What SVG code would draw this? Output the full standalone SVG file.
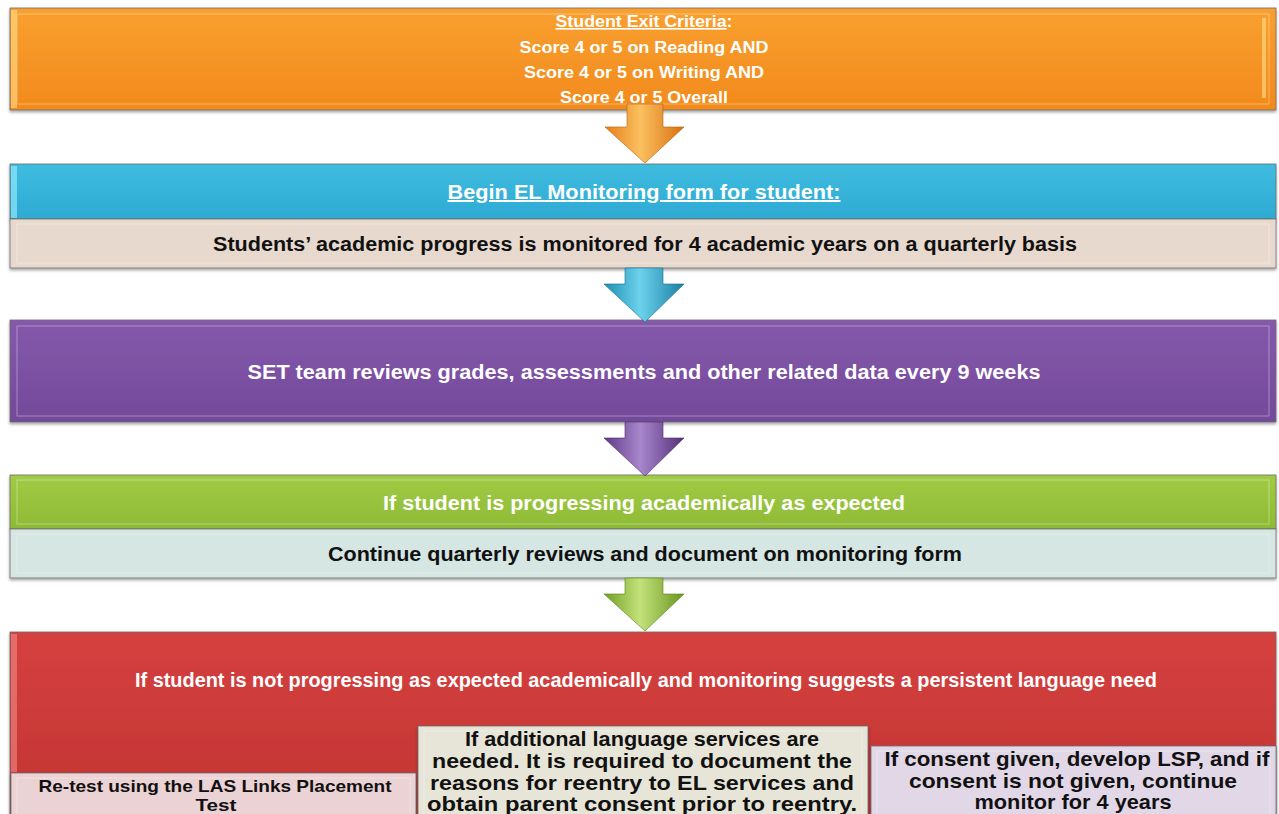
<svg xmlns="http://www.w3.org/2000/svg" width="1279" height="814" viewBox="0 0 1279 814">
<defs>
<linearGradient id="gOrange" x1="0" y1="0" x2="0" y2="1"><stop offset="0" stop-color="#F9A030"/><stop offset="1" stop-color="#F28A1C"/></linearGradient>
<linearGradient id="gBlue" x1="0" y1="0" x2="0" y2="1"><stop offset="0" stop-color="#3FBCE0"/><stop offset="1" stop-color="#2EAAD3"/></linearGradient>
<linearGradient id="gPurple" x1="0" y1="0" x2="0" y2="1"><stop offset="0" stop-color="#8559AC"/><stop offset="1" stop-color="#73499A"/></linearGradient>
<linearGradient id="gGreen" x1="0" y1="0" x2="0" y2="1"><stop offset="0" stop-color="#A2CB45"/><stop offset="1" stop-color="#8DBA35"/></linearGradient>
<linearGradient id="gRed" x1="0" y1="0" x2="0" y2="1"><stop offset="0" stop-color="#D5413F"/><stop offset="1" stop-color="#C13332"/></linearGradient>
<linearGradient id="gArrO" x1="0" y1="0" x2="1" y2="0"><stop offset="0" stop-color="#E57E17"/><stop offset="0.45" stop-color="#FBC060"/><stop offset="1" stop-color="#D8700F"/></linearGradient>
<linearGradient id="gArrB" x1="0" y1="0" x2="1" y2="0"><stop offset="0" stop-color="#1E8FB5"/><stop offset="0.45" stop-color="#6CD2EC"/><stop offset="1" stop-color="#1A7FA3"/></linearGradient>
<linearGradient id="gArrP" x1="0" y1="0" x2="1" y2="0"><stop offset="0" stop-color="#5E3A86"/><stop offset="0.45" stop-color="#A886CC"/><stop offset="1" stop-color="#553079"/></linearGradient>
<linearGradient id="gArrG" x1="0" y1="0" x2="1" y2="0"><stop offset="0" stop-color="#739F25"/><stop offset="0.45" stop-color="#C3E27A"/><stop offset="1" stop-color="#6A951F"/></linearGradient>
<filter id="sh" x="-2%" y="-10%" width="104%" height="130%"><feDropShadow dx="0" dy="2" stdDeviation="1.5" flood-color="#000" flood-opacity="0.35"/></filter>
</defs>
<style>
.box{stroke:#6b6b6b;stroke-width:0.8;filter:url(#sh)}
.bev{fill:none;stroke:#ffffff;stroke-opacity:0.35;stroke-width:1}
.hl{fill-opacity:0.6}
.tw{font-family:"Liberation Sans",Arial,sans-serif;font-weight:bold;fill:#ffffff;text-anchor:middle}
.tb{font-family:"Liberation Sans",Arial,sans-serif;font-weight:bold;fill:#111111;text-anchor:middle}
.u{text-decoration:underline}
</style>
<rect width="1279" height="814" fill="#ffffff"/>

<g id="node-exit-criteria">
<rect class="box" x="10" y="8" width="1266" height="102" fill="url(#gOrange)"/>
<rect class="bev" x="17" y="14" width="1252" height="90"/>
<rect class="hl" x="11" y="10" width="6" height="98" fill="#FFE08A"/>
<rect class="hl" x="1262" y="18" width="4" height="80" fill="#FFE08A"/>
<text class="tw" x="644" y="27" font-size="16" textLength="177" lengthAdjust="spacingAndGlyphs"><tspan class="u">Student Exit Criteria</tspan>:</text>
<text class="tw" x="644" y="53" font-size="16" textLength="249" lengthAdjust="spacingAndGlyphs">Score 4 or 5 on Reading AND</text>
<text class="tw" x="644" y="78" font-size="16" textLength="240" lengthAdjust="spacingAndGlyphs">Score 4 or 5 on Writing AND</text>
<text class="tw" x="644" y="103" font-size="16" textLength="168" lengthAdjust="spacingAndGlyphs">Score 4 or 5 Overall</text>
</g>

<g id="node-begin-monitoring">
<rect class="box" x="10" y="164" width="1266" height="55" fill="url(#gBlue)"/>
<rect class="hl" x="11" y="166" width="6" height="52" fill="#9FF0FF"/>
<text class="tw u" x="644" y="199" font-size="20" textLength="393" lengthAdjust="spacingAndGlyphs">Begin EL Monitoring form for student:</text>
<rect class="box" x="10" y="219" width="1266" height="49" fill="#E8D9CE"/>
<rect class="bev" x="17" y="224" width="1252" height="39" stroke-opacity="0.7"/>
<text class="tb" x="645" y="251" font-size="20" textLength="864" lengthAdjust="spacingAndGlyphs">Students’ academic progress is monitored for 4 academic years on a quarterly basis</text>
</g>

<g id="node-set-review">
<rect class="box" x="10" y="320" width="1266" height="102" fill="url(#gPurple)"/>
<rect class="bev" x="17" y="326" width="1252" height="90"/>
<text class="tw" x="644" y="379" font-size="20" textLength="793" lengthAdjust="spacingAndGlyphs">SET team reviews grades, assessments and other related data every 9 weeks</text>
</g>

<g id="node-progressing">
<rect class="box" x="10" y="475" width="1266" height="54" fill="url(#gGreen)"/>
<rect class="bev" x="17" y="480" width="1252" height="44"/>
<text class="tw" x="644" y="510" font-size="20" textLength="522" lengthAdjust="spacingAndGlyphs">If student is progressing academically as expected</text>
<rect class="box" x="10" y="529" width="1266" height="49" fill="#D5E6E3"/>
<rect class="bev" x="17" y="534" width="1252" height="39" stroke-opacity="0.7"/>
<text class="tb" x="645" y="561" font-size="20" textLength="634" lengthAdjust="spacingAndGlyphs">Continue quarterly reviews and document on monitoring form</text>
</g>

<g id="node-not-progressing">
<rect class="box" x="10" y="632" width="1266" height="190" fill="url(#gRed)"/>
<rect class="hl" x="11" y="634" width="6" height="138" fill="#F08A88"/>
<text class="tw" x="646" y="687" font-size="20" textLength="1022" lengthAdjust="spacingAndGlyphs">If student is not progressing as expected academically and monitoring suggests a persistent language need</text>
</g>

<g id="node-retest">
<rect class="box" x="11" y="773" width="405" height="50" fill="#EBD2D4"/>
<rect class="bev" x="17" y="778" width="393" height="40" stroke-opacity="0.7"/>
<text class="tb" x="215" y="792" font-size="17" textLength="353" lengthAdjust="spacingAndGlyphs">Re-test using the LAS Links Placement</text>
<text class="tb" x="216" y="811" font-size="17" textLength="41" lengthAdjust="spacingAndGlyphs">Test</text>
</g>

<g id="node-additional">
<rect class="box" x="418" y="726" width="450" height="96" fill="#E7E5D7"/>
<rect class="bev" x="424" y="731" width="438" height="86" stroke-opacity="0.7"/>
<text class="tb" x="642" y="746" font-size="20.5" textLength="354" lengthAdjust="spacingAndGlyphs">If additional language services are</text>
<text class="tb" x="642" y="768" font-size="20.5" textLength="420" lengthAdjust="spacingAndGlyphs">needed. It is required to document the</text>
<text class="tb" x="642" y="790" font-size="20.5" textLength="424" lengthAdjust="spacingAndGlyphs">reasons for reentry to EL services and</text>
<text class="tb" x="642" y="811" font-size="20.5" textLength="430" lengthAdjust="spacingAndGlyphs">obtain parent consent prior to reentry.</text>
</g>

<g id="node-consent">
<rect class="box" x="871" y="746" width="405" height="76" fill="#E2D7E7"/>
<rect class="bev" x="877" y="751" width="393" height="66" stroke-opacity="0.7"/>
<text class="tb" x="1077" y="766" font-size="20.5" textLength="385" lengthAdjust="spacingAndGlyphs">If consent given, develop LSP, and if</text>
<text class="tb" x="1073" y="788" font-size="20.5" textLength="328" lengthAdjust="spacingAndGlyphs">consent is not given, continue</text>
<text class="tb" x="1073" y="809" font-size="20.5" textLength="197" lengthAdjust="spacingAndGlyphs">monitor for 4 years</text>
</g>

<g id="connectors">
<polygon points="627,104 663,104 663,127 684,127 645,163 605,127 627,127" fill="url(#gArrO)" stroke="#B5620E" stroke-width="0.6"/>
<polygon points="625,268 663,268 663,284 684,284 645,322 604,284 625,284" fill="url(#gArrB)" stroke="#186E8C" stroke-width="0.6"/>
<polygon points="625,422 663,422 663,438 684,438 645,476 604,438 625,438" fill="url(#gArrP)" stroke="#4A2A6A" stroke-width="0.6"/>
<polygon points="625,578 663,578 663,594 684,594 645,631 604,594 625,594" fill="url(#gArrG)" stroke="#5A7F1A" stroke-width="0.6"/>
</g>
</svg>
